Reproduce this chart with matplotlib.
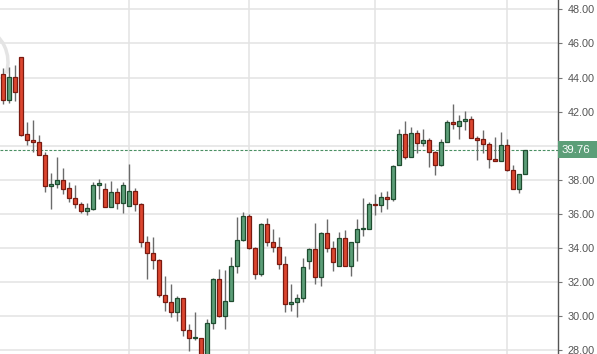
import matplotlib
matplotlib.use("Agg")
import matplotlib.pyplot as plt
from matplotlib.patches import Arc, Rectangle
from matplotlib.transforms import IdentityTransform, blended_transform_factory
import numpy as np

opens = [44.20, 42.68, 44.01, 45.18, 40.66, 40.31, 40.19, 39.43, 37.61, 37.73,
         37.96, 37.49, 36.90, 36.55, 36.16, 36.30, 37.67, 37.43, 36.38, 37.26,
         36.61, 36.43, 37.32, 36.55, 34.32, 33.68, 33.26, 31.25, 30.80, 30.21,
         31.03, 29.15, 28.68, 28.68, 27.60, 29.57, 32.17, 30.02, 30.86, 32.91,
         34.46, 35.85, 33.97, 32.44, 35.38, 34.32, 34.07, 33.03, 30.68, 30.84,
         31.03, 33.24, 33.91, 32.27, 34.85, 33.97, 32.91, 34.56, 32.91, 34.32,
         35.08, 35.08, 36.55, 36.49, 36.96, 36.88, 38.84, 40.66, 39.35, 40.72,
         40.13, 40.31, 39.60, 38.84, 40.19, 41.37, 41.13, 41.42, 41.54, 40.43,
         40.37, 40.07, 39.23, 39.12, 40.02, 38.59, 37.43, 38.33]
highs = [44.54, 44.63, 44.73, 45.18, 41.37, 41.50, 40.62, 39.64, 38.39, 39.33,
         38.67, 37.84, 37.69, 36.71, 36.63, 37.84, 38.04, 37.80, 37.92, 37.49,
         37.88, 38.92, 37.51, 36.61, 34.71, 34.61, 33.36, 32.34, 31.87, 31.19,
         31.07, 29.53, 30.23, 28.68, 29.82, 32.25, 32.77, 32.70, 33.46, 35.81,
         36.10, 35.96, 34.05, 35.46, 35.73, 35.10, 34.61, 33.52, 31.87, 31.29,
         33.38, 34.01, 35.46, 34.91, 35.69, 34.40, 34.91, 35.05, 34.32, 35.69,
         36.92, 36.71, 37.16, 37.26, 37.33, 38.88, 40.97, 41.42, 41.07, 40.90,
         40.96, 40.47, 39.70, 40.37, 41.50, 42.44, 41.78, 42.01, 41.72, 40.54,
         40.92, 40.19, 40.52, 40.80, 40.37, 38.88, 38.33, 39.76]
lows = [42.42, 42.52, 42.64, 40.56, 40.02, 39.60, 39.43, 37.30, 36.30, 37.53,
        37.14, 36.71, 36.36, 36.02, 35.95, 36.22, 36.88, 36.38, 36.38, 36.30,
        36.06, 36.43, 36.18, 34.07, 32.15, 32.77, 31.13, 30.31, 29.96, 29.72,
        28.82, 27.96, 28.59, 27.40, 27.40, 29.25, 29.94, 29.25, 30.86, 32.54,
        34.42, 33.91, 32.19, 32.32, 34.13, 33.75, 32.77, 30.25, 30.31, 29.92,
        30.84, 32.77, 31.87, 31.78, 33.77, 32.66, 32.91, 32.91, 32.36, 33.24,
        34.71, 35.08, 35.95, 36.08, 36.30, 36.77, 38.84, 39.23, 39.35, 39.59,
        40.00, 38.76, 38.29, 38.80, 40.19, 40.99, 40.41, 40.92, 40.43, 39.17,
        39.59, 38.70, 39.08, 39.12, 38.53, 37.43, 37.24, 38.33]
closes = [42.68, 44.01, 43.15, 40.64, 40.31, 40.19, 39.43, 37.61, 37.73, 37.96,
          37.47, 36.90, 36.55, 36.16, 36.32, 37.67, 37.80, 36.38, 37.26, 36.61,
          37.67, 37.32, 36.55, 34.32, 33.68, 33.26, 31.25, 30.80, 30.21, 31.03,
          29.15, 28.68, 28.70, 27.60, 29.57, 32.17, 30.02, 30.86, 32.91, 34.46,
          35.85, 33.97, 32.44, 35.38, 34.32, 34.07, 33.03, 30.68, 30.84, 31.03,
          32.85, 33.91, 32.27, 34.85, 33.97, 33.15, 34.56, 32.91, 34.32, 35.08,
          35.10, 36.55, 36.49, 36.96, 36.88, 38.80, 40.66, 39.35, 40.72, 40.13,
          40.31, 39.60, 38.84, 40.19, 41.37, 41.29, 41.42, 41.54, 40.43, 40.31,
          40.07, 39.23, 39.12, 40.02, 38.59, 37.43, 38.33, 39.76]

last_price = 39.76
y_ticks = [28, 30, 32, 34, 36, 38, 40, 42, 44, 46, 48]
y_tick_labels = ["28.00", "30.00", "32.00", "34.00", "36.00", "38.00", "", "42.00",
                 "44.00", "46.00", "48.00"]
month_breaks = [21, 41, 62, 84]

UP_FILL, UP_EDGE = "#5c9e78", "#1f4d30"
DN_FILL, DN_EDGE = "#dc4630", "#7a1a10"
WICK = "#6b6b6b"
GRID = "#e3e3e3"

fig = plt.figure(figsize=(5.97, 3.54), dpi=100)
ax = fig.add_axes([0, 0, 558 / 597, 1])

x = np.arange(len(opens))
o = np.array(opens); c = np.array(closes); h = np.array(highs); l = np.array(lows)
up = c >= o

ax.set_xlim(-0.55, 92.45)
ax.set_ylim(27.77, 48.55)

ax.set_yticks(y_ticks)
ax.set_xticks(month_breaks)
ax.grid(True, color=GRID, linewidth=1.1, zorder=0)
ax.set_axisbelow(True)

# faint watermark arc at the top-left (pixel coordinates), behind the candles
ax.add_patch(Arc((-29, 354 - 62), 74, 74, theta1=-18, theta2=70,
                 transform=IdentityTransform(), edgecolor="#e4e4e4",
                 linewidth=2.5, zorder=1))

ax.vlines(x, l, h, color=WICK, linewidth=1.0, zorder=2)
bottoms = np.minimum(o, c)
heights = np.maximum(np.abs(c - o), 0.06)
ax.bar(x[up], heights[up], bottom=bottoms[up], width=0.72,
       color=UP_FILL, edgecolor=UP_EDGE, linewidth=0.9, zorder=3)
ax.bar(x[~up], heights[~up], bottom=bottoms[~up], width=0.72,
       color=DN_FILL, edgecolor=DN_EDGE, linewidth=0.9, zorder=3)

ax.axhline(last_price, color="#4a8f63", linewidth=0.8, linestyle=(0, (2.5, 1.5)), zorder=1)

for side in ["top", "left", "bottom"]:
    ax.spines[side].set_visible(False)
ax.spines["right"].set_color("#555555")
ax.spines["right"].set_linewidth(1.0)
ax.yaxis.tick_right()
ax.set_yticklabels(y_tick_labels)
ax.tick_params(axis="y", direction="out", length=3, color="#777777",
               labelsize=7.8, labelcolor="#555555", pad=4)
for t in ax.get_yticklabels():
    t.set_fontfamily("Liberation Sans")
ax.tick_params(axis="x", length=0, labelbottom=False)

# last price marker box
trans = blended_transform_factory(ax.transAxes, ax.transData)
ax.add_patch(Rectangle((1.0, last_price - 0.5), 597 / 558 - 1.0, 1.0,
                       transform=trans, facecolor="#5c9e78", edgecolor="none",
                       clip_on=False, zorder=5))
ax.text(1.0 + 4 / 558, last_price, "39.76", transform=trans,
        ha="left", va="center", color="white", fontsize=8.2,
        fontfamily="Liberation Sans", clip_on=False, zorder=6)

fig.savefig("out.png", dpi=100, facecolor="white")
